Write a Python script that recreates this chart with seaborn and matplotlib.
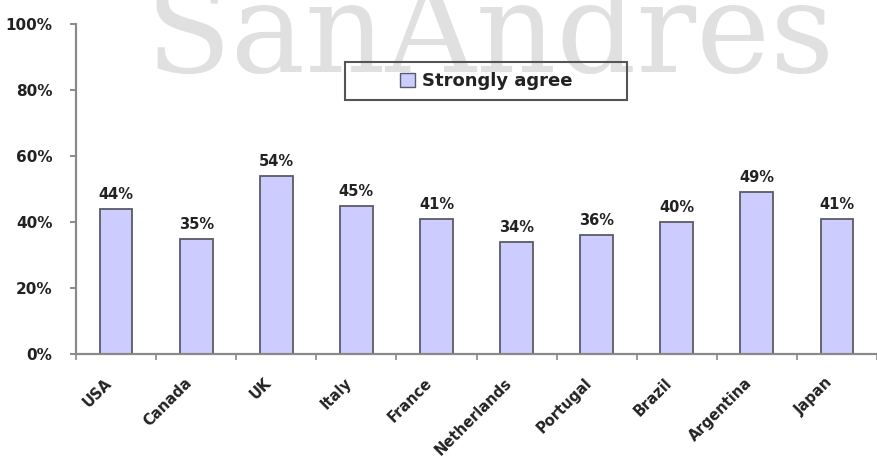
import matplotlib
matplotlib.use("Agg")
import matplotlib.pyplot as plt
import matplotlib.transforms as mtransforms
from matplotlib.patches import Patch, Rectangle
import seaborn as sns

countries = ["USA", "Canada", "UK", "Italy", "France", "Netherlands",
             "Portugal", "Brazil", "Argentina", "Japan"]
strongly_agree = [44, 35, 54, 45, 41, 34, 36, 40, 49, 41]
y_ticks = [0, 20, 40, 60, 80, 100]
y_tick_labels = [f"{t}%" for t in y_ticks]
series_name = "Strongly agree"

BAR_FILL = "#CCCCFF"
BAR_EDGE = "#5A5A66"
AXIS_GREY = "#8A8A8A"
TEXT = "#222222"

sns.set_theme(style="white")
plt.rcParams["font.family"] = ["DejaVu Sans"]

W, H = 877, 457
fig = plt.figure(figsize=(W / 100, H / 100), dpi=100)
fig.patch.set_facecolor("white")

# axes box: y axis at x=76px, 0% at y=354px, 100% at y=24px
left, bottom = 76 / W, (H - 354) / H
ax = fig.add_axes([left, bottom, 1 - left, (354 - 24) / H])
ax.set_facecolor("none")

sns.barplot(x=countries, y=strongly_agree, color=BAR_FILL, edgecolor=BAR_EDGE,
            linewidth=1.3, width=0.41, saturation=1, ax=ax)

slot = 80.7  # pixels per category
ax.set_xlim(-0.5, -0.5 + (W - 76) / slot)
ax.set_ylim(0, 100)

for side in ("top", "right"):
    ax.spines[side].set_visible(False)
for side in ("left", "bottom"):
    ax.spines[side].set_color(AXIS_GREY)
    ax.spines[side].set_linewidth(1.6)

ax.set_yticks(y_ticks)
ax.set_yticklabels(y_tick_labels, fontsize=11, fontweight="bold", color=TEXT)
ax.tick_params(axis="y", direction="out", length=4, width=1.4, color=AXIS_GREY, pad=13, left=True)

# category labels centred on bars, tick marks between categories
ax.set_xticks(range(len(countries)))
ax.set_xticklabels(countries, fontsize=10.5, fontweight="bold", color=TEXT,
                   rotation=45, ha="right", va="center", rotation_mode="anchor")
ax.set_xticks([i - 0.5 for i in range(len(countries) + 1)], minor=True)
ax.tick_params(axis="x", which="major", length=0, pad=19)
ax.tick_params(axis="x", which="minor", direction="out", length=4, width=1.2,
               color=AXIS_GREY, bottom=True)
shift = mtransforms.ScaledTranslation(-7 / 100, 0, fig.dpi_scale_trans)
for lbl in ax.get_xticklabels():
    lbl.set_transform(lbl.get_transform() + shift)

ax.set_xlabel("")
ax.set_ylabel("")
ax.grid(False)

ax.bar_label(ax.containers[0], labels=[f"{v}%" for v in strongly_agree],
             padding=5, fontsize=10.5, fontweight="bold", color=TEXT)

# watermark
fig.text(145 / W, (H - 72) / H, "SanAndres", family="DejaVu Serif", fontsize=90,
         color="#E0E0E0", ha="left", va="baseline", zorder=-1)

# legend with its own box
fig.patches.append(Rectangle((345 / W, (H - 100) / H), (627 - 345) / W, 38 / H,
                             transform=fig.transFigure, fill=False,
                             edgecolor="#555555", linewidth=1.5, zorder=5))
handle = Patch(facecolor=BAR_FILL, edgecolor=BAR_EDGE, linewidth=1.0)
fig.legend(handles=[handle], labels=[series_name], loc="center",
           bbox_to_anchor=(486 / W, (H - 81) / H), frameon=False,
           handlelength=0.85, handleheight=0.85, handletextpad=0.35,
           prop={"size": 13, "weight": "bold"}, labelcolor=TEXT)

fig.savefig("out.png", dpi=100)
